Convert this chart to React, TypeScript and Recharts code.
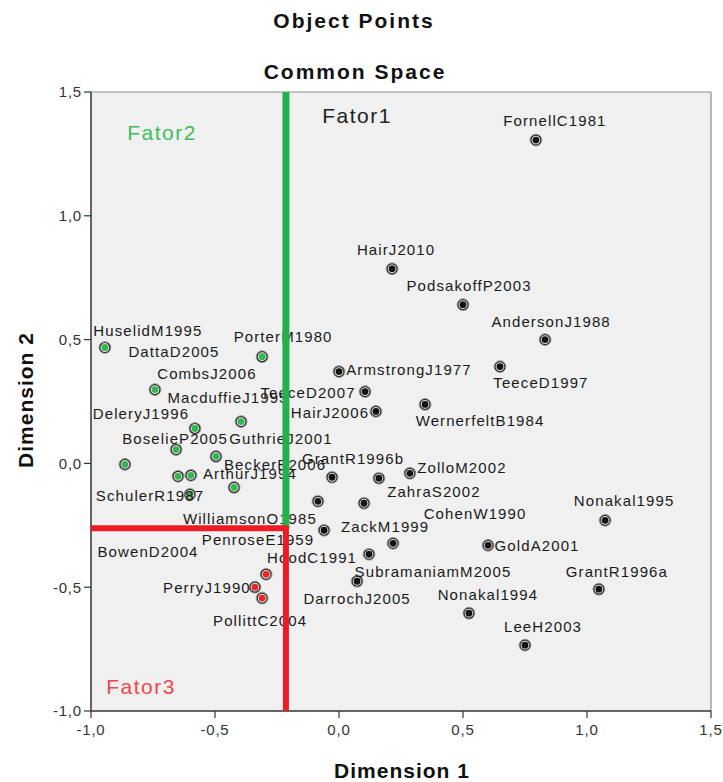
import React from "react";
import {
  CartesianGrid,
  ReferenceLine,
  Scatter,
  ScatterChart,
  XAxis,
  YAxis,
} from "recharts";

interface Pt {
  name: string;
  x: number;
  y: number;
}

// Object points (Dimension 1, Dimension 2)
const blackPoints: Pt[] = [
  { name: "FornellC1981", x: 0.794, y: 1.306 },
  { name: "HairJ2010", x: 0.214, y: 0.786 },
  { name: "PodsakoffP2003", x: 0.5, y: 0.641 },
  { name: "AndersonJ1988", x: 0.831, y: 0.5 },
  { name: "TeeceD1997", x: 0.649, y: 0.391 },
  { name: "ArmstrongJ1977", x: 0.0, y: 0.371 },
  { name: "TeeceD2007", x: 0.105, y: 0.29 },
  { name: "HairJ2006", x: 0.149, y: 0.21 },
  { name: "WernerfeltB1984", x: 0.347, y: 0.238 },
  { name: "GrantR1996b", x: -0.028, y: -0.056 },
  { name: "ZahraS2002", x: 0.161, y: -0.06 },
  { name: "ZolloM2002", x: 0.286, y: -0.04 },
  { name: "WilliamsonO1985", x: -0.085, y: -0.153 },
  { name: "PenroseE1959", x: 0.101, y: -0.161 },
  { name: "ZackM1999", x: -0.06, y: -0.27 },
  { name: "CohenW1990", x: 0.218, y: -0.323 },
  { name: "SubramaniamM2005", x: 0.121, y: -0.367 },
  { name: "DarrochJ2005", x: 0.073, y: -0.476 },
  { name: "GoldA2001", x: 0.601, y: -0.331 },
  { name: "Nonakal1995", x: 1.073, y: -0.23 },
  { name: "GrantR1996a", x: 1.048, y: -0.508 },
  { name: "Nonakal1994", x: 0.524, y: -0.605 },
  { name: "LeeH2003", x: 0.75, y: -0.734 },
];

const greenPoints: Pt[] = [
  { name: "HuselidM1995", x: -0.944, y: 0.468 },
  { name: "PorterM1980", x: -0.31, y: 0.431 },
  { name: "DattaD2005", x: -0.742, y: 0.298 },
  { name: "CombsJ2006", x: -0.581, y: 0.141 },
  { name: "MacduffieJ1995", x: -0.395, y: 0.169 },
  { name: "DeleryJ1996", x: -0.863, y: -0.004 },
  { name: "BoselieP2005", x: -0.657, y: 0.056 },
  { name: "GuthrieJ2001", x: -0.496, y: 0.028 },
  { name: "BeckerB2006", x: -0.423, y: -0.097 },
  { name: "ArthurJ1994", x: -0.597, y: -0.048 },
  { name: "SchulerR1987", x: -0.601, y: -0.125 },
  { name: "BowenD2004", x: -0.649, y: -0.052 },
];

const redPoints: Pt[] = [
  { name: "HoodC1991", x: -0.294, y: -0.448 },
  { name: "PerryJ1990", x: -0.339, y: -0.5 },
  { name: "PollittC2004", x: -0.31, y: -0.544 },
];

// factor boundary lines
const greenLine = [
  { x: -0.214, y: 1.5 },
  { x: -0.214, y: -0.262 },
];
const redLineH = [
  { x: -1.0, y: -0.262 },
  { x: -0.214, y: -0.262 },
];
const redLineV = [
  { x: -0.214, y: -0.262 },
  { x: -0.214, y: -1.0 },
];

const xTicks = [-1.0, -0.5, 0.0, 0.5, 1.0, 1.5];
const yTicks = [-1.0, -0.5, 0.0, 0.5, 1.0, 1.5];

// label placement relative to the point, in pixels
const labelOffsets: Record<string, [number, number]> = {
  FornellC1981: [19, -20],
  HairJ2010: [4, -19],
  PodsakoffP2003: [6, -19],
  AndersonJ1988: [6, -18],
  TeeceD1997: [41, 16],
  ArmstrongJ1977: [70, -2],
  TeeceD2007: [-57, 1],
  HairJ2006: [-46, 1],
  WernerfeltB1984: [55, 16],
  GrantR1996b: [21, -19],
  ZahraS2002: [55, 13],
  ZolloM2002: [52, -6],
  WilliamsonO1985: [-68, 17],
  PenroseE1959: [-106, 36],
  ZackM1999: [61, -4],
  CohenW1990: [82, -30],
  SubramaniamM2005: [64, 17],
  DarrochJ2005: [0, 17],
  GoldA2001: [49, 0],
  Nonakal1995: [19, -20],
  GrantR1996a: [18, -18],
  Nonakal1994: [19, -19],
  LeeH2003: [18, -19],
  HuselidM1995: [43, -17],
  PorterM1980: [21, -20],
  DattaD2005: [19, -38],
  CombsJ2006: [12, -55],
  MacduffieJ1995: [-13, -24],
  DeleryJ1996: [16, -51],
  BoselieP2005: [-1, -11],
  GuthrieJ2001: [65, -18],
  BeckerB2006: [41, -23],
  ArthurJ1994: [59, -2],
  SchulerR1987: [-40, 1],
  BowenD2004: [-30, 75],
  HoodC1991: [46, -17],
  PerryJ1990: [-48, 0],
  PollittC2004: [-2, 22],
};

const allPoints = [...blackPoints, ...greenPoints, ...redPoints];

const FONT = "'Liberation Sans', Arial, sans-serif";

const fmt = (v: number) => v.toFixed(1).replace(".", ",");

function marker(color: string) {
  return (props: any) => {
    const { cx, cy } = props;
    return (
      <g>
        <circle cx={cx} cy={cy} r={6} fill="none" stroke="rgba(0,0,0,0.3)" strokeWidth={1} />
        <circle cx={cx} cy={cy} r={5} fill="#e6e6e6" stroke="#2a2a2a" strokeWidth={1.2} />
        <circle cx={cx} cy={cy} r={3.4} fill={color} />
      </g>
    );
  };
}

function PointLabel(props: any) {
  const { cx, cy, payload } = props;
  const off = labelOffsets[payload.name] ?? [0, -18];
  return (
    <text
      x={cx + off[0]}
      y={cy + off[1]}
      textAnchor="middle"
      dominantBaseline="central"
      fontFamily={FONT}
      fontSize={15}
      letterSpacing={1.1}
      fill="#1a1a1a"
    >
      {payload.name}
    </text>
  );
}

const noShape = () => <g />;

export default function App() {
  return (
    <div style={{ position: "absolute", left: 0, top: 0, width: 723, height: 782, background: "#fff" }}>
      <ScatterChart
        width={723}
        height={782}
        margin={{ top: 92, right: 12, bottom: 0, left: 0 }}
        style={{ fontFamily: FONT }}
      >
        <CartesianGrid fill="#f0f0f0" horizontal={false} vertical={false} />
        <XAxis
          type="number"
          dataKey="x"
          domain={[-1, 1.5]}
          ticks={xTicks}
          tickFormatter={fmt}
          height={71}
          tickSize={7}
          tickMargin={6}
          allowDataOverflow
          axisLine={{ stroke: "#333", strokeWidth: 1.5 }}
          tickLine={{ stroke: "#333", strokeWidth: 1.2 }}
          tick={{ fill: "#333", fontSize: 15, letterSpacing: 0.8 }}
        />
        <YAxis
          type="number"
          dataKey="y"
          domain={[-1, 1.5]}
          ticks={yTicks}
          tickFormatter={fmt}
          width={91}
          tickSize={7}
          tickMargin={2}
          allowDataOverflow
          axisLine={{ stroke: "#333", strokeWidth: 1.5 }}
          tickLine={{ stroke: "#333", strokeWidth: 1.2 }}
          tick={{ fill: "#333", fontSize: 15, letterSpacing: 0.8 }}
        />
        <ReferenceLine y={1.5} stroke="#8a8a8a" strokeWidth={1.2} />
        <ReferenceLine x={1.5} stroke="#8a8a8a" strokeWidth={1.2} />
        <Scatter data={blackPoints} shape={marker("#111")} isAnimationActive={false} />
        <Scatter data={greenPoints} shape={marker("#2eb84e")} isAnimationActive={false} />
        <Scatter data={redPoints} shape={marker("#ee2424")} isAnimationActive={false} />
        <Scatter data={allPoints} shape={PointLabel} isAnimationActive={false} />
        <Scatter
          data={greenLine}
          shape={noShape}
          line={{ stroke: "#22b14c", strokeWidth: 7 }}
          isAnimationActive={false}
        />
        <Scatter
          data={redLineH}
          shape={noShape}
          line={{ stroke: "#ed1c24", strokeWidth: 6 }}
          isAnimationActive={false}
        />
        <Scatter
          data={redLineV}
          shape={noShape}
          line={{ stroke: "#ed1c24", strokeWidth: 6, strokeLinecap: "round" }}
          isAnimationActive={false}
        />
      </ScatterChart>
      <svg
        width={723}
        height={782}
        style={{ position: "absolute", left: 0, top: 0, pointerEvents: "none" }}
        fontFamily={FONT}
      >
        <text x={354} y={28} textAnchor="middle" fontSize={21} fontWeight="bold" letterSpacing={2} fill="#111">
          Object Points
        </text>
        <text x={355} y={79} textAnchor="middle" fontSize={21} fontWeight="bold" letterSpacing={2} fill="#111">
          Common Space
        </text>
        <text x={402} y={778} textAnchor="middle" fontSize={21} fontWeight="bold" letterSpacing={1} fill="#111">
          Dimension 1
        </text>
        <text
          x={0}
          y={0}
          transform="translate(33,400) rotate(-90)"
          textAnchor="middle"
          fontSize={21}
          fontWeight="bold"
          letterSpacing={1}
          fill="#111"
        >
          Dimension 2
        </text>
        <text x={357} y={123} textAnchor="middle" fontSize={21} letterSpacing={1.5} fill="#222">
          Fator1
        </text>
        <text x={162} y={140} textAnchor="middle" fontSize={21} letterSpacing={1.5} fill="#3dbd5c">
          Fator2
        </text>
        <text x={141} y={694} textAnchor="middle" fontSize={21} letterSpacing={1.5} fill="#f04848">
          Fator3
        </text>
      </svg>
    </div>
  );
}
